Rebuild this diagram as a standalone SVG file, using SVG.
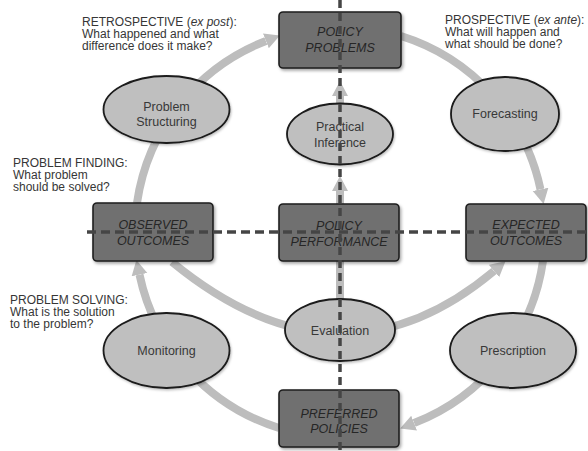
<svg xmlns="http://www.w3.org/2000/svg" width="588" height="451" viewBox="0 0 588 451">
<style>
text{font-family:"Liberation Sans",Arial,Helvetica,sans-serif;font-size:12.3px;fill:#333}
.note{font-size:12px;fill:#363636}
.box rect{fill:#6f6f6f;stroke:#1e1e1e;stroke-width:1.6;filter:url(#sh)}
.box text{font-style:italic;fill:#262626;text-anchor:middle;font-size:12.5px}
.ell ellipse{fill:#bfbfbf;stroke:#1a1a1a;stroke-width:1.8;filter:url(#sh2)}
.ell text{text-anchor:middle;fill:#383838;font-size:12.5px}
.flow{fill:none;stroke:#bdbdbd;stroke-width:8;marker-end:url(#ah)}
.axis{fill:none;stroke:#454545;stroke-width:3.5;stroke-dasharray:9 5}
</style>
<defs>
<marker id="ah" markerUnits="userSpaceOnUse" markerWidth="16" markerHeight="18" viewBox="0 -9 16 18" refX="0" refY="0" orient="auto">
<path d="M0,-8 L15,0 L0,8 Z" fill="#bdbdbd"/>
</marker>
<filter id="sh" x="-10%" y="-10%" width="130%" height="140%">
<feDropShadow dx="1.5" dy="2" stdDeviation="1.6" flood-color="#000" flood-opacity="0.35"/>
</filter>
<filter id="sh2" x="-10%" y="-10%" width="130%" height="140%">
<feDropShadow dx="1" dy="1.5" stdDeviation="1.2" flood-color="#000" flood-opacity="0.25"/>
</filter>
</defs>
<rect width="588" height="451" fill="#fff"/>

<g id="connectors">
<path class="flow" d="M137,203 A205,205 0 0 1 265.9,40.9"/>
<path class="flow" d="M401,36 A205,205 0 0 1 540.5,189.4"/>
<path class="flow" d="M543,261 A205,205 0 0 1 414.1,423.1"/>
<path class="flow" d="M279,428 A205,205 0 0 1 139.5,274.6"/>
<path class="flow" d="M172,262 Q340,400 494,271"/>
<path class="flow" d="M340,300 L340,191"/>
<path class="flow" d="M340,140 L340,96"/>
</g>

<g id="n-policy-problems" class="box">
<rect x="279" y="12" width="122" height="56" rx="4"/>
<text x="340" y="36">POLICY<tspan x="340" dy="16">PROBLEMS</tspan></text>
</g>
<g id="n-observed-outcomes" class="box">
<rect x="93" y="203" width="120" height="58" rx="4"/>
<text x="153" y="229">OBSERVED<tspan x="153" dy="16">OUTCOMES</tspan></text>
</g>
<g id="n-policy-performance" class="box">
<rect x="279" y="204" width="120" height="57" rx="4"/>
<text x="339" y="230">POLICY<tspan x="339" dy="16">PERFORMANCE</tspan></text>
</g>
<g id="n-expected-outcomes" class="box">
<rect x="466" y="204" width="120" height="57" rx="4"/>
<text x="526" y="229">EXPECTED<tspan x="526" dy="16">OUTCOMES</tspan></text>
</g>
<g id="n-preferred-policies" class="box">
<rect x="279" y="390" width="120" height="57" rx="4"/>
<text x="339" y="418">PREFERRED<tspan x="339" dy="15">POLICIES</tspan></text>
</g>

<g id="n-problem-structuring" class="ell">
<ellipse cx="166.5" cy="109.5" rx="63" ry="33.5"/>
<text x="166.5" y="111">Problem<tspan x="166.5" dy="15">Structuring</tspan></text>
</g>
<g id="n-practical-inference" class="ell">
<ellipse cx="340" cy="134" rx="53" ry="30.5"/>
<text x="340" y="131">Practical<tspan x="340" dy="16">Inference</tspan></text>
</g>
<g id="n-forecasting" class="ell">
<ellipse cx="505" cy="114" rx="54" ry="37"/>
<text x="505" y="118">Forecasting</text>
</g>
<g id="n-monitoring" class="ell">
<ellipse cx="166.5" cy="350.5" rx="63" ry="37.5"/>
<text x="166.5" y="355">Monitoring</text>
</g>
<g id="n-evaluation" class="ell">
<ellipse cx="340" cy="330" rx="55" ry="31"/>
<text x="340" y="335">Evaluation</text>
</g>
<g id="n-prescription" class="ell">
<ellipse cx="513" cy="350.5" rx="63" ry="37.5"/>
<text x="513" y="355">Prescription</text>
</g>

<g id="axes">
<line class="axis" x1="87" y1="232" x2="588" y2="232"/>
<line class="axis" x1="340" y1="0" x2="340" y2="451" style="stroke-dasharray:8 5"/>
</g>

<g id="annotations">
<text class="note" x="82" y="26">RETROSPECTIVE (<tspan font-style="italic">ex post</tspan>):<tspan x="82" dy="12">What happened and what</tspan><tspan x="82" dy="12">difference does it make?</tspan></text>
<text class="note" x="445" y="23.5">PROSPECTIVE (<tspan font-style="italic">ex ante</tspan>):<tspan x="445" dy="12">What will happen and</tspan><tspan x="445" dy="12">what should be done?</tspan></text>
<text class="note" x="13" y="167">PROBLEM FINDING:<tspan x="13" dy="12">What problem</tspan><tspan x="13" dy="12">should be solved?</tspan></text>
<text class="note" x="10" y="303.5">PROBLEM SOLVING:<tspan x="10" dy="12">What is the solution</tspan><tspan x="10" dy="12">to the problem?</tspan></text>
</g>
</svg>
